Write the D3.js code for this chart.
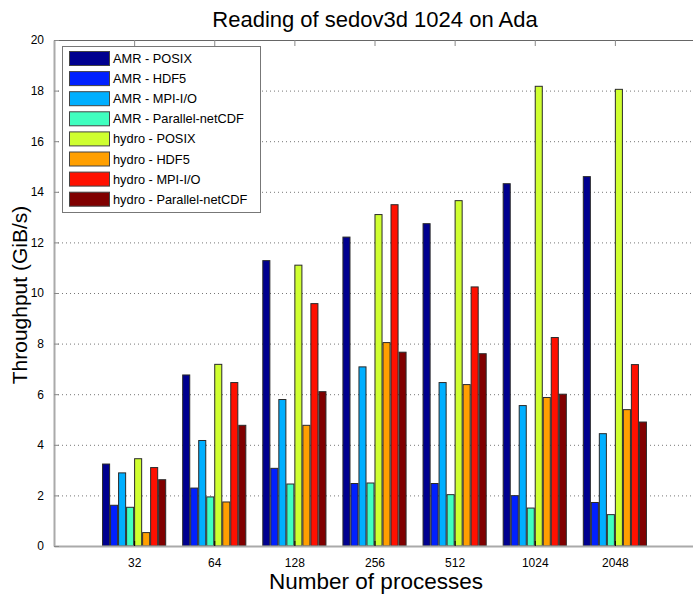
<!doctype html>
<html>
<head>
<style>
  body { margin: 0; background: #fff; }
</style>
</head>
<body>
<svg width="693" height="594" font-family="'Liberation Sans', Arial, sans-serif"></svg>
<script src="https://cdn.jsdelivr.net/npm/d3@7"></script>
<script>
  // data
  const procs = ["32", "64", "128", "256", "512", "1024", "2048"];
  const series = ["AMR - POSIX", "AMR - HDF5", "AMR - MPI-I/O", "AMR - Parallel-netCDF",
                  "hydro - POSIX", "hydro - HDF5", "hydro - MPI-I/O", "hydro - Parallel-netCDF"];
  const amrPosix   = [3.24, 6.76, 11.28, 12.21, 12.74, 14.32, 14.60];
  const amrHdf5    = [1.61, 2.29, 3.07, 2.47, 2.47, 1.99, 1.72];
  const amrMpiio   = [2.89, 4.17, 5.79, 7.08, 6.46, 5.55, 4.44];
  const amrPnetcdf = [1.53, 1.94, 2.45, 2.49, 2.03, 1.50, 1.24];
  const hydroPosix   = [3.45, 7.18, 11.10, 13.10, 13.65, 18.17, 18.05];
  const hydroHdf5    = [0.53, 1.74, 4.77, 8.04, 6.38, 5.87, 5.39];
  const hydroMpiio   = [3.10, 6.46, 9.58, 13.49, 10.24, 8.24, 7.17];
  const hydroPnetcdf = [2.62, 4.77, 6.10, 7.66, 7.60, 6.00, 4.90];
  const values = [amrPosix, amrHdf5, amrMpiio, amrPnetcdf, hydroPosix, hydroHdf5, hydroMpiio, hydroPnetcdf];
  const yTicks = [0, 2, 4, 6, 8, 10, 12, 14, 16, 18, 20];

  const colors = ["#00008f", "#0020ff", "#00afff", "#40ffbf", "#cfff30", "#ff9f00", "#ff1000", "#800000"];

  let svg = d3.select("svg");
  let pLeft = 54, pRight = 695, pTop = 40, pBottom = 546;

  let x = d3.scaleLinear().domain([0, procs.length + 1]).range([pLeft, pRight]);
  let y = d3.scaleLinear().domain([0, 20]).range([pBottom, pTop]);

  // dotted grid
  svg.append("g")
    .selectAll("line")
    .data(yTicks.filter(d => d > 0 && d < 20))
    .enter().append("line")
    .attr("x1", pLeft).attr("x2", pRight)
    .attr("y1", d => y(d) + 0.5).attr("y2", d => y(d) + 0.5)
    .attr("stroke", "#777")
    .attr("stroke-dasharray", "1,3");

  // bars
  let step = 0.1, bw = 0.088;
  series.forEach((s, i) => {
    svg.append("g")
      .selectAll("rect")
      .data(values[i])
      .enter().append("rect")
      .attr("x", (d, j) => x(j + 1 + (i - 3.5) * step - bw / 2))
      .attr("width", x(bw) - x(0))
      .attr("y", d => y(d))
      .attr("height", d => y(0) - y(d))
      .attr("fill", colors[i])
      .attr("stroke", "#2a2a2a")
      .attr("stroke-width", 1);
  });

  // frame
  svg.append("line").attr("x1", pLeft).attr("x2", pRight).attr("y1", pTop + 0.5).attr("y2", pTop + 0.5)
    .attr("stroke", "#666");
  svg.append("line").attr("x1", pRight).attr("x2", pRight).attr("y1", pTop).attr("y2", pBottom)
    .attr("stroke", "#666");

  // top ticks
  svg.append("g").selectAll("line")
    .data(procs)
    .enter().append("line")
    .attr("x1", (d, j) => x(j + 1) + 0.5).attr("x2", (d, j) => x(j + 1) + 0.5)
    .attr("y1", pTop).attr("y2", pTop + 6)
    .attr("stroke", "#888");

  // bottom axis
  let xAxis = d3.axisBottom(x)
    .tickValues(d3.range(1, procs.length + 1))
    .tickFormat(d => procs[d - 1])
    .tickSizeInner(-5).tickSizeOuter(0).tickPadding(12);
  let gx = svg.append("g").attr("transform", `translate(0,${pBottom})`).call(xAxis);
  gx.select(".domain").attr("stroke", "#aaa").attr("stroke-width", 2);
  gx.selectAll(".tick line").attr("stroke", "#000");
  gx.selectAll("text").attr("font-size", 12).attr("font-family", "'Liberation Sans', Arial, sans-serif").attr("fill", "#000");

  // left axis
  let yAxis = d3.axisLeft(y).tickValues(yTicks).tickSizeInner(-5).tickSizeOuter(0).tickPadding(10);
  let gy = svg.append("g").attr("transform", `translate(${pLeft},0)`).call(yAxis);
  gy.select(".domain").attr("stroke", "#aaa").attr("stroke-width", 2);
  gy.selectAll(".tick line").attr("stroke", "#888");
  gy.selectAll("text").attr("font-size", 12).attr("font-family", "'Liberation Sans', Arial, sans-serif").attr("fill", "#000");

  // legend
  let lg = svg.append("g").attr("transform", "translate(62,46)");
  lg.append("rect").attr("x", 0.5).attr("y", 0.5).attr("width", 198).attr("height", 166)
    .attr("fill", "#fff").attr("stroke", "#777");
  series.forEach((s, i) => {
    lg.append("rect").attr("x", 7.5).attr("y", 5.5 + i * 20.1).attr("width", 40).attr("height", 14)
      .attr("fill", colors[i]).attr("stroke", "#444");
    lg.append("text").attr("x", 51).attr("y", 17 + i * 20.1)
      .attr("font-size", 12.8).text(s);
  });

  // title and labels
  svg.append("text").attr("x", 375).attr("y", 27).attr("text-anchor", "middle")
    .attr("font-size", 22).text("Reading of sedov3d 1024 on Ada");
  svg.append("text").attr("x", 376).attr("y", 589).attr("text-anchor", "middle")
    .attr("font-size", 22.5).text("Number of processes");
  svg.append("text").attr("transform", "translate(27,295) rotate(-90)").attr("text-anchor", "middle")
    .attr("font-size", 21).text("Throughput (GiB/s)");
</script>
</body>
</html>
